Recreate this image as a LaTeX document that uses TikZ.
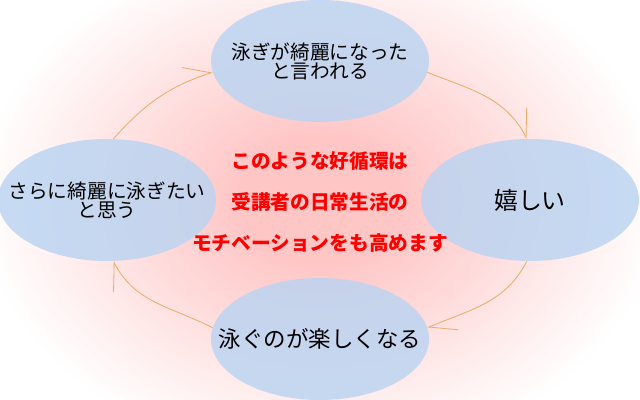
\documentclass[tikz,border=0pt]{standalone}
\usepackage{fontspec}
\setmainfont{Noto Sans CJK JP}
\usepackage{xcolor}
\usepackage{tikz}
\usetikzlibrary{shapes.geometric, arrows.meta, positioning}

\definecolor{glowpink}{RGB}{255,198,198}
\definecolor{bubbleblue}{RGB}{186,212,242}
\definecolor{cycleorange}{RGB}{240,172,105}
\pgfdeclareradialshading{glow}{\pgfpoint{0bp}{0bp}}{color(0bp)=(glowpink); color(6bp)=(glowpink); color(25bp)=(white); color(50bp)=(white)}

\tikzset{
  bubble/.style={ellipse, fill=bubbleblue, fill opacity=0.82, minimum width=5.45cm, minimum height=3.05cm, inner sep=0pt},
  bubbletext/.style={align=center, inner sep=0pt, font=\fontsize{14}{13.5}\selectfont},
  cyclearrow/.style={draw=cycleorange, line width=0.6pt, -{Straight Barb[harpoon, length=6.5mm, width=7mm]}}
}

\begin{document}
\begin{tikzpicture}
    \useasboundingbox (0,0) rectangle (16,10);

    % Background glow
    \begin{scope}
        \clip (0,0) rectangle (16,10);
        \shade[shading=glow] (8,5) ellipse (8.5 and 6.5);
    \end{scope}

    % Bubbles
    \node[bubble] (praise) at (8,8.475) {};
    \node[bubble] (happy) at (13.25,5) {};
    \node[bubble] (fun) at (8,1.525) {};
    \node[bubble] (again) at (2.675,5) {};

    % Texts
    \node[bubbletext] (praisetext) at (praise) {泳ぎが綺麗になった\\と言われる};
    \node[bubbletext, font=\fontsize{17}{18}\selectfont] (happytext) at (happy) {嬉しい};
    \node[bubbletext, font=\fontsize{16}{16}\selectfont] (funtext) at (fun) {泳ぐのが楽しくなる};
    \node[bubbletext] (againtext) at (again) {さらに綺麗に泳ぎたい\\と思う};
    \node[align=center, text=red, font=\fontsize{14}{29}\selectfont\bfseries] (msg) at (8,4.95) {このような好循環は\\受講者の日常生活の\\モチベーションをも高めます};

    % Cycle
    \draw[cyclearrow] (praise.-6) to[out=-22, in=117] (happy.93);
    \draw[cyclearrow] (happy.267) to[out=243, in=23] (fun.6);
    \draw[cyclearrow] (fun.174) to[out=153, in=-63] (again.-84);
    \draw[cyclearrow] (again.84) to[out=48, in=198] (praise.186);
\end{tikzpicture}
\end{document}
